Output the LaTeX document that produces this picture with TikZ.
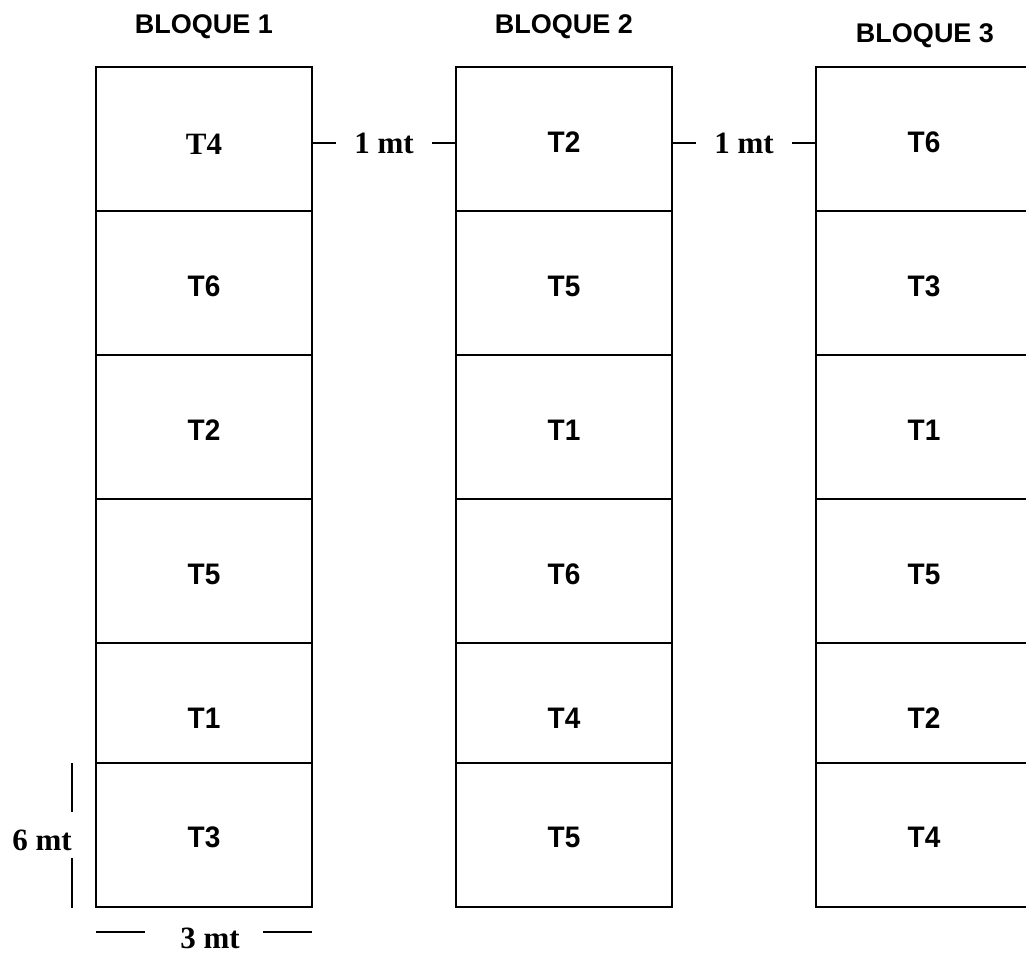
\documentclass[tikz,border=0pt]{standalone}
\usepackage{fontspec}
\setmainfont{Liberation Serif}
\newfontfamily\arialf{Liberation Sans}
\tikzset{
  cell/.style={draw, line width=1.8pt, rectangle, minimum width=216pt, inner sep=0pt, outer sep=0pt, anchor=north west},
  lab/.style={font=\arialf\bfseries\fontsize{28}{31}\selectfont, inner sep=0pt, yscale=1.06},
  serlab/.style={font=\bfseries\fontsize{31}{34}\selectfont, inner sep=0pt},
  title/.style={font=\arialf\bfseries\fontsize{27}{30}\selectfont, inner sep=0pt, anchor=base},
  dimline/.style={line width=1.5pt},
}
\begin{document}
\begin{tikzpicture}[x=1pt,y=-1pt]
\useasboundingbox (0,0) rectangle (1026,953);
\clip (0,0) rectangle (1026,953);
% titles
\node[title] (t1) at (204,33) {BLOQUE 1};
\node[title] (t2) at (564,33) {BLOQUE 2};
\node[title] (t3) at (925,42) {BLOQUE 3};
% cells
\foreach \bx/\bn in {96/1,456/2,816/3}{
  \foreach \ty/\h/\r in {67/144/1,211/144/2,355/144/3,499/144/4,643/120/5,763/144/6}{
    \node[cell, minimum height=\h pt] (c\bn-\r) at (\bx,\ty) {};
  }
}
% labels block 1
\node[serlab] (l1-1) at (204,144) {T4};
\node[lab] (l1-2) at (204,286) {T6};
\node[lab] (l1-3) at (204,430) {T2};
\node[lab] (l1-4) at (204,574) {T5};
\node[lab] (l1-5) at (204,718) {T1};
\node[lab] (l1-6) at (204,837) {T3};
% labels block 2
\node[lab] (l2-1) at (564,142) {T2};
\node[lab] (l2-2) at (564,286) {T5};
\node[lab] (l2-3) at (564,430) {T1};
\node[lab] (l2-4) at (564,574) {T6};
\node[lab] (l2-5) at (564,718) {T4};
\node[lab] (l2-6) at (564,837) {T5};
% labels block 3
\node[lab] (l3-1) at (924,142) {T6};
\node[lab] (l3-2) at (924,286) {T3};
\node[lab] (l3-3) at (924,430) {T1};
\node[lab] (l3-4) at (924,574) {T5};
\node[lab] (l3-5) at (924,718) {T2};
\node[lab] (l3-6) at (924,837) {T4};
% spacing between blocks
\node[serlab, minimum width=96pt] (m1) at (384,143) {1 mt};
\node[serlab, minimum width=96pt] (m2) at (744,143) {1 mt};
\draw[dimline] (m1.west) -- (m1.west -| c1-1.east);
\draw[dimline] (m1.east) -- (m1.east -| c2-1.west);
\draw[dimline] (m2.west) -- (m2.west -| c2-1.east);
\draw[dimline] (m2.east) -- (m2.east -| c3-1.west);
% 6 mt dimension
\node[serlab] (d6) at (42,840) {6 mt};
\coordinate (v1) at (72,763);
\coordinate (v2) at (72,812);
\coordinate (v3) at (72,858);
\coordinate (v4) at (72,908);
\draw[dimline, line width=1.8pt] (v1) -- (v2);
\draw[dimline, line width=1.8pt] (v3) -- (v4);
% 3 mt dimension
\node[serlab] (d3) at (210,938) {3 mt};
\coordinate (h1) at (96,932);
\coordinate (h2) at (145,932);
\coordinate (h3) at (263,932);
\coordinate (h4) at (312,932);
\draw[dimline] (h1) -- (h2);
\draw[dimline] (h3) -- (h4);
\end{tikzpicture}
\end{document}
